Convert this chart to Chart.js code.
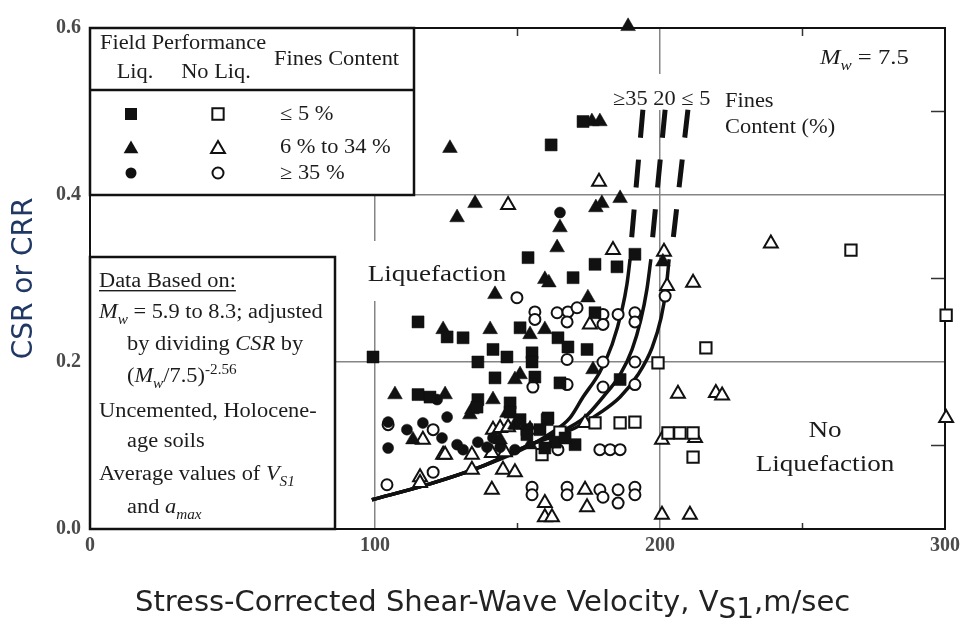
<!DOCTYPE html>
<html>
<head>
<meta charset="utf-8">
<script src="https://cdn.jsdelivr.net/npm/chart.js@4.4.1/dist/chart.umd.min.js"></script>
<style>
html,body{margin:0;padding:0;background:#ffffff;overflow:hidden;}
canvas{display:block;}
</style>
</head>
<body>
<canvas id="chart" width="960" height="621"></canvas>
<script>
// ---------- axis ticks ----------
const xTickValues = [0, 100, 200, 300];
const yTickValues = [0.0, 0.2, 0.4, 0.6];
const xMinorTicks = [50, 150, 250];
const yMinorTicks = [0.1, 0.3, 0.5];

// ---------- field case histories: [Vs1 (m/s), CSR] ----------
const liqFinesLE5 = [
  [161.8,0.460],[173.0,0.488],[191.2,0.329],[153.7,0.325],[169.5,0.301],[177.2,0.317],[184.9,0.314],
  [177.2,0.259],[115.1,0.248],[125.3,0.230],[130.9,0.229],[150.9,0.241],[164.2,0.229],[167.7,0.218],
  [174.4,0.215],[99.3,0.206],[136.1,0.200],[141.4,0.215],[146.3,0.206],[155.1,0.211],[155.1,0.200],
  [142.1,0.181],[156.1,0.182],[164.9,0.175],[186.0,0.179],[115.1,0.161],[119.3,0.158],[136.1,0.155],
  [135.8,0.146],[147.4,0.151],[160.7,0.133],[170.2,0.101],[160.4,0.131],[153.3,0.119],[147.4,0.140],
  [150.9,0.131],[153.3,0.113],[157.9,0.119],[163.2,0.104],[166.7,0.109],[159.6,0.097]
];
const liqFines6to34 = [
  [188.8,0.602],[126.3,0.456],[128.8,0.373],[135.1,0.390],[176.1,0.488],[178.9,0.488],[177.5,0.385],
  [179.6,0.390],[186.0,0.396],[164.9,0.361],[163.9,0.337],[201.0,0.320],[159.6,0.299],[161.0,0.295],
  [142.1,0.281],[174.7,0.277],[123.9,0.239],[140.4,0.239],[154.4,0.233],[159.6,0.239],[176.5,0.191],
  [150.9,0.185],[149.1,0.179],[107.0,0.161],[124.6,0.161],[141.4,0.155],[134.0,0.143],[133.3,0.137],
  [146.3,0.139],[113.3,0.107],[149.1,0.125],[154.4,0.101],[143.9,0.107]
];
const liqFinesGE35 = [
  [164.9,0.379],[104.6,0.128],[104.6,0.097],[111.2,0.119],[116.8,0.127],[125.3,0.134],[121.8,0.155],
  [123.5,0.109],[128.8,0.101],[130.9,0.095],[136.1,0.104],[139.3,0.098],[141.4,0.109],[143.9,0.098],
  [149.1,0.095]
];
const noLiqFinesLE5 = [
  [164.9,0.116],[177.2,0.127],[186.0,0.127],[191.2,0.128],[202.8,0.115],[207.0,0.115],[211.6,0.115],
  [211.6,0.086],[158.6,0.089],[199.3,0.199],[216.1,0.217],[267.0,0.334],[300.4,0.256]
];
const noLiqFines6to34 = [
  [146.7,0.388],[178.6,0.416],[183.5,0.334],[201.4,0.332],[202.5,0.291],[211.6,0.295],[175.4,0.245],
  [206.3,0.162],[219.6,0.163],[221.8,0.160],[238.9,0.342],[300.4,0.133],[200.7,0.107],[212.3,0.109],
  [173.7,0.127],[123.9,0.089],[134.0,0.071],[144.9,0.071],[149.1,0.068],[141.0,0.047],[115.8,0.062],
  [115.8,0.055],[116.8,0.107],[124.6,0.089],[134.0,0.089],[141.0,0.091],[145.6,0.092],[141.4,0.119],
  [143.9,0.121],[146.7,0.122],[149.8,0.125],[154.4,0.119],[173.7,0.047],[159.6,0.031],[159.6,0.014],
  [162.1,0.014],[174.4,0.026],[200.7,0.017],[210.5,0.017]
];
const noLiqFinesGE35 = [
  [149.8,0.277],[156.1,0.260],[156.1,0.251],[163.9,0.259],[167.7,0.260],[170.9,0.265],[167.4,0.248],
  [180.0,0.257],[185.3,0.257],[191.2,0.259],[191.2,0.248],[180.0,0.245],[167.4,0.203],[180.0,0.200],
  [191.2,0.200],[167.4,0.173],[155.4,0.170],[180.0,0.170],[191.2,0.173],[178.9,0.095],[182.5,0.095],
  [186.0,0.095],[164.2,0.095],[120.4,0.068],[104.2,0.053],[155.1,0.050],[155.1,0.041],[167.4,0.050],
  [167.4,0.041],[178.9,0.047],[180.0,0.038],[185.3,0.047],[185.3,0.031],[191.2,0.050],[191.2,0.041],
  [104.6,0.125],[120.4,0.119],[201.8,0.279]
];

// ---------- CRR boundary curves ----------
const crrFinesGE35 = [[98.9,0.035],[119.3,0.054],[136.8,0.074],[150.9,0.094],[161.4,0.114],[168.4,0.133],
  [173.0,0.158],[178.9,0.188],[183.2,0.221],[186.7,0.263],[188.4,0.293],[189.5,0.323]];
const crrFines20 = [[98.9,0.035],[119.3,0.054],[136.8,0.074],[154.4,0.101],[164.9,0.116],[173.7,0.134],
  [180.0,0.158],[186.0,0.185],[190.2,0.215],[193.3,0.251],[195.4,0.287],[196.8,0.323]];
const crrFinesLE5 = [[98.9,0.035],[119.3,0.054],[136.8,0.074],[154.4,0.101],[170.2,0.121],[178.9,0.139],
  [186.0,0.158],[192.3,0.185],[197.2,0.217],[200.4,0.253],[202.1,0.287],[203.2,0.323]];
const extFinesGE35 = [[194.0,0.502],[189.7,0.335]];
const extFines20 = [[201.8,0.502],[197.0,0.335]];
const extFinesLE5 = [[209.8,0.502],[204.2,0.335]];

// ---------- helpers ----------
const INK = '#1c1c1c';
const SERIF = '"Liberation Serif", "Times New Roman", serif';
const toPts = arr => arr.map(([x, y]) => ({x, y}));

function markerSet(label, data, style, filled, r) {
  return {
    label, data: toPts(data), showLine: false, clip: false,
    pointStyle: style, pointRadius: r, pointHoverRadius: r,
    backgroundColor: filled ? '#111' : '#ffffff',
    borderColor: '#111', borderWidth: filled ? 0.5 : 2
  };
}
function curveSet(label, data, dashed) {
  return {
    label, data: toPts(data), showLine: true, clip: false,
    pointRadius: 0, pointHoverRadius: 0,
    borderColor: '#111', backgroundColor: '#111',
    borderWidth: dashed ? 5 : 3.5,
    borderDash: dashed ? [28, 22] : [],
    borderCapStyle: 'butt',
    cubicInterpolationMode: 'monotone', fill: false
  };
}

function drawRich(ctx, x, y, parts, size, opts = {}) {
  const sx = opts.sx || 1.12;
  const align = opts.align || 'left';
  ctx.save();
  ctx.textBaseline = 'alphabetic';
  ctx.textAlign = 'left';
  const segs = parts.map(p => {
    const [t, st] = typeof p === 'string' ? [p, ''] : [p[0], p[1] || ''];
    const isSub = st.includes('sub'), isSup = st.includes('sup');
    const fs = (isSub || isSup) ? size * 0.68 : size;
    const font = (st.includes('i') ? 'italic ' : '') + fs + 'px ' + (opts.family || SERIF);
    ctx.font = font;
    const w = ctx.measureText(t).width;
    const dy = isSub ? size * 0.28 : isSup ? -size * 0.38 : 0;
    return {t, font, w, dy};
  });
  const total = segs.reduce((a, s) => a + s.w, 0);
  const start = align === 'center' ? -total / 2 : align === 'right' ? -total : 0;
  ctx.translate(x, y);
  ctx.scale(sx, 1);
  ctx.fillStyle = opts.color || INK;
  let cx = start;
  for (const s of segs) {
    ctx.font = s.font;
    ctx.fillText(s.t, cx, s.dy);
    cx += s.w;
  }
  if (opts.underline) ctx.fillRect(start, 3, total, 1.4);
  ctx.restore();
}

function legendMarker(ctx, style, filled, x, y, r) {
  ctx.save();
  ctx.beginPath();
  if (style === 'rect') {
    const h = r * Math.SQRT1_2;
    ctx.rect(x - h, y - h, 2 * h, 2 * h);
  } else if (style === 'triangle') {
    const a = 2 * Math.PI / 3;
    ctx.moveTo(x, y - r);
    ctx.lineTo(x + Math.sin(a) * r, y - Math.cos(a) * r);
    ctx.lineTo(x - Math.sin(a) * r, y - Math.cos(a) * r);
    ctx.closePath();
  } else {
    ctx.arc(x, y, r, 0, Math.PI * 2);
  }
  ctx.fillStyle = filled ? '#111' : '#ffffff';
  ctx.fill();
  if (!filled) { ctx.lineWidth = 2; ctx.strokeStyle = '#111'; ctx.stroke(); }
  ctx.restore();
}

const figurePlugin = {
  id: 'figurePlugin',
  beforeDatasetsDraw(chart) {
    const {ctx, chartArea: a, scales} = chart;
    const xs = scales.x, ys = scales.y;
    ctx.save();
    // minor inward ticks
    ctx.strokeStyle = '#333';
    ctx.lineWidth = 1.5;
    ctx.beginPath();
    for (const v of xMinorTicks) {
      const px = xs.getPixelForValue(v);
      ctx.moveTo(px, a.top); ctx.lineTo(px, a.top + 8);
      ctx.moveTo(px, a.bottom); ctx.lineTo(px, a.bottom - 6);
    }
    for (const v of yMinorTicks) {
      const py = ys.getPixelForValue(v);
      ctx.moveTo(a.right, py); ctx.lineTo(a.right - 14, py);
    }
    ctx.stroke();

    // white panels / label backgrounds
    const y04 = ys.getPixelForValue(0.4);
    ctx.fillStyle = '#ffffff';
    ctx.fillRect(a.left, a.top, 324, y04 - a.top);
    ctx.fillRect(a.left, 257, 245, a.bottom - 257);
    ctx.fillRect(362, 241, 152, 60);
    ctx.fillRect(606, 74, 112, 36);

    // outer frame
    ctx.strokeStyle = '#111';
    ctx.lineWidth = 2;
    ctx.strokeRect(a.left, a.top, a.right - a.left, a.bottom - a.top);

    // legend box 1
    ctx.lineWidth = 2.5;
    ctx.strokeRect(a.left, a.top, 324, y04 - a.top);
    ctx.beginPath();
    ctx.moveTo(a.left, 90); ctx.lineTo(a.left + 324, 90);
    ctx.stroke();
    // note box 2
    ctx.strokeRect(a.left, 257, 245, a.bottom - 257);

    // legend box 1 text
    drawRich(ctx, 100, 49, ['Field Performance'], 20);
    drawRich(ctx, 135, 78, ['Liq.'], 20, {align: 'center'});
    drawRich(ctx, 216, 78, ['No Liq.'], 20, {align: 'center'});
    drawRich(ctx, 274, 65, ['Fines Content'], 20);
    legendMarker(ctx, 'rect', true, 131, 114, 8.5);
    legendMarker(ctx, 'rect', false, 218, 114, 8);
    legendMarker(ctx, 'triangle', true, 131, 149, 8.5);
    legendMarker(ctx, 'triangle', false, 218, 149, 8);
    legendMarker(ctx, 'circle', true, 131, 173, 5.5);
    legendMarker(ctx, 'circle', false, 218, 173, 5.5);
    drawRich(ctx, 280, 120, ['\u2264 5 %'], 20);
    drawRich(ctx, 280, 153, ['6 % to 34 %'], 20);
    drawRich(ctx, 280, 179, ['\u2265 35 %'], 20);

    // note box 2 text
    drawRich(ctx, 99, 287, ['Data Based on:'], 20, {underline: true});
    drawRich(ctx, 99, 318, [['M', 'i'], ['w', 'isub'], ' = 5.9 to 8.3; adjusted'], 20);
    drawRich(ctx, 127, 350, ['by dividing ', ['CSR', 'i'], ' by'], 20);
    drawRich(ctx, 127, 382, ['(', ['M', 'i'], ['w', 'isub'], '/7.5)', ['-2.56', 'sup']], 20);
    drawRich(ctx, 99, 417, ['Uncemented, Holocene-'], 20);
    drawRich(ctx, 127, 447, ['age soils'], 20);
    drawRich(ctx, 99, 480, ['Average values of ', ['V', 'i'], ['S1', 'isub']], 20);
    drawRich(ctx, 127, 513, ['and ', ['a', 'i'], ['max', 'isub']], 20);

    // region labels
    drawRich(ctx, 437, 281, ['Liquefaction'], 23, {align: 'center', sx: 1.18});
    drawRich(ctx, 825, 437, ['No'], 23, {align: 'center', sx: 1.18});
    drawRich(ctx, 825, 471, ['Liquefaction'], 23, {align: 'center', sx: 1.18});
    drawRich(ctx, 613, 105, ['\u226535 20 \u2264 5'], 20);
    drawRich(ctx, 725, 107, ['Fines'], 20);
    drawRich(ctx, 725, 133, ['Content (%)'], 20);
    drawRich(ctx, 820, 64, [['M', 'i'], ['w', 'isub'], ' = 7.5'], 22);
    ctx.restore();
  },
  afterDraw(chart) {
    const {ctx} = chart;
    ctx.save();
    ctx.fillStyle = '#222';
    ctx.textBaseline = 'alphabetic';
    ctx.textAlign = 'left';
    const f = '"DejaVu Sans", Verdana, sans-serif';
    let x = 135;
    const y = 611;
    ctx.font = '29px ' + f;
    const t1 = 'Stress-Corrected Shear-Wave Velocity, V';
    ctx.fillText(t1, x, y);
    x += ctx.measureText(t1).width;
    ctx.font = '28px ' + f;
    ctx.fillText('S1', x, y + 7);
    x += ctx.measureText('S1').width;
    ctx.font = '29px ' + f;
    ctx.fillText(',m/sec', x, y);
    ctx.restore();
  }
};

const gridColor = (lo, hi) => c => (c.tick && c.tick.value > lo + 1e-9 && c.tick.value < hi - 1e-9) ? '#858585' : 'rgba(0,0,0,0)';
const tickFont = {family: 'Liberation Serif', size: 20, weight: 'bold'};

new Chart(document.getElementById('chart'), {
  type: 'scatter',
  data: {
    datasets: [
      markerSet('Liq. FC \u2264 5 %', liqFinesLE5, 'rect', true, 8.5),
      markerSet('Liq. FC 6 % to 34 %', liqFines6to34, 'triangle', true, 8.5),
      markerSet('Liq. FC \u2265 35 %', liqFinesGE35, 'circle', true, 5.5),
      markerSet('No Liq. FC \u2264 5 %', noLiqFinesLE5, 'rect', false, 8),
      markerSet('No Liq. FC 6 % to 34 %', noLiqFines6to34, 'triangle', false, 8),
      markerSet('No Liq. FC \u2265 35 %', noLiqFinesGE35, 'circle', false, 5.5),
      curveSet('CRR FC \u2265 35', crrFinesGE35, false),
      curveSet('CRR FC 20', crrFines20, false),
      curveSet('CRR FC \u2264 5', crrFinesLE5, false),
      curveSet('CRR FC \u2265 35 (ext.)', extFinesGE35, true),
      curveSet('CRR FC 20 (ext.)', extFines20, true),
      curveSet('CRR FC \u2264 5 (ext.)', extFinesLE5, true)
    ]
  },
  options: {
    responsive: false,
    animation: false,
    events: [],
    layout: {padding: {top: 28, right: 15, left: 0, bottom: 0}},
    plugins: {legend: {display: false}, tooltip: {enabled: false}},
    scales: {
      x: {
        type: 'linear', min: 0, max: 300,
        afterBuildTicks: s => { s.ticks = xTickValues.map(v => ({value: v})); },
        afterFit: s => { s.height = 92; s.paddingLeft = 0; s.paddingRight = 0; },
        ticks: {font: tickFont, color: '#4a4a4a',
                padding: 5, maxRotation: 0, autoSkip: false, callback: v => String(v)},
        grid: {color: gridColor(0, 300), lineWidth: 1.5, drawTicks: false},
        border: {display: true, color: '#111', width: 2}
      },
      y: {
        type: 'linear', min: 0, max: 0.6,
        afterBuildTicks: s => { s.ticks = yTickValues.map(v => ({value: v})); },
        afterFit: s => { s.width = 90; s.paddingTop = 0; s.paddingBottom = 0; },
        ticks: {font: tickFont, color: '#4a4a4a',
                padding: 9, autoSkip: false, callback: v => Number(v).toFixed(1)},
        grid: {color: gridColor(0, 0.6), lineWidth: 1.5, drawTicks: false},
        border: {display: true, color: '#111', width: 2},
        title: {display: true, text: 'CSR or CRR', color: '#203864',
                font: {family: 'DejaVu Sans', size: 28, weight: 'normal'}, padding: {top: 8, bottom: 0}}
      }
    }
  },
  plugins: [figurePlugin]
});
</script>
</body>
</html>
